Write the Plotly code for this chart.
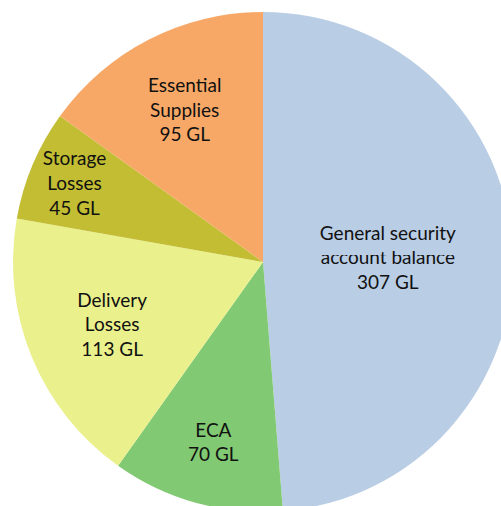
import plotly.graph_objects as go

categories = ["General security account balance", "ECA", "Delivery Losses", "Storage Losses", "Essential Supplies"]
label_lines = ["General security<br>account balance", "ECA", "Delivery<br>Losses", "Storage<br>Losses", "Essential<br>Supplies"]
values = [307, 70, 113, 45, 95]
colors = ["#B9CDE5", "#82C973", "#EAF08C", "#C3BD33", "#F7A867"]

texts = [f"{l}<br>{v} GL" for l, v in zip(label_lines, values)]

W, H = 526, 524
fig = go.Figure(go.Pie(
    labels=categories,
    values=values,
    text=texts,
    textinfo="text",
    textposition="inside",
    insidetextorientation="horizontal",
    sort=False,
    direction="clockwise",
    rotation=0,
    marker=dict(colors=colors, line=dict(width=0)),
    textfont=dict(family="Lato", size=19, color="#111111"),
    hoverinfo="label+value",
    domain=dict(x=[13 / W, 513 / W], y=[12 / H, 512 / H]),
))
fig.update_layout(
    width=W, height=H,
    margin=dict(l=0, r=0, t=0, b=0),
    showlegend=False,
    paper_bgcolor="white",
    uniformtext=dict(minsize=19, mode="show"),
)
fig.write_html(
    "out.html",
    config={"displayModeBar": False},
    post_script="document.body.style.margin='0';document.body.style.overflow='hidden';document.documentElement.style.overflow='hidden';",
)
